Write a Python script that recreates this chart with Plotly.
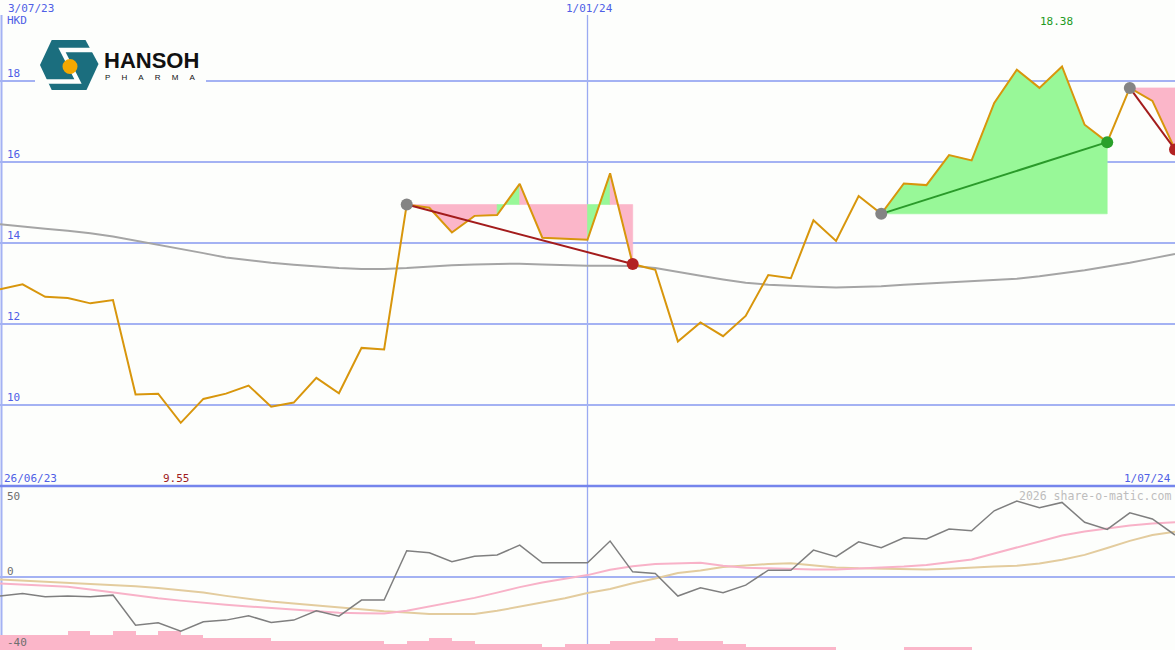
import plotly.graph_objects as go
import pandas as pd

W, H = 1175, 650

# ---------------- data ----------------
dates = pd.date_range("2023-07-03", periods=53, freq="7D")

price = [12.86, 12.98, 12.67, 12.64, 12.51, 12.59, 10.26, 10.28, 9.56, 10.15,
         10.28, 10.48, 9.96, 10.06, 10.67, 10.29, 11.41, 11.37, 14.95, 14.87,
         14.26, 14.67, 14.69, 15.46, 14.13, 14.11, 14.08, 15.72, 13.48, 13.34,
         11.57, 12.04, 11.70, 12.20, 13.21, 13.13, 14.56, 14.05, 15.16, 14.72,
         15.47, 15.43, 16.17, 16.04, 17.46, 18.28, 17.83, 18.36, 16.92, 16.49,
         17.83, 17.51, 16.31]

ma_long = [14.46, 14.40, 14.35, 14.30, 14.24, 14.16, 14.06, 13.95, 13.85, 13.75,
           13.64, 13.57, 13.51, 13.46, 13.42, 13.38, 13.36, 13.36, 13.38, 13.42,
           13.45, 13.47, 13.48, 13.49, 13.47, 13.45, 13.44, 13.44, 13.43, 13.38,
           13.28, 13.19, 13.10, 13.02, 12.97, 12.94, 12.92, 12.90, 12.91, 12.93,
           12.97, 13.00, 13.03, 13.06, 13.08, 13.12, 13.18, 13.25, 13.33, 13.42,
           13.51, 13.62, 13.73]

osc = [-10.3, -9.0, -10.8, -10.3, -10.8, -9.9, -26.4, -25.1, -29.7, -24.5,
       -23.6, -21.2, -24.9, -23.6, -18.5, -21.4, -12.6, -12.6, 14.5, 13.4,
       8.4, 11.5, 12.1, 17.6, 7.9, 7.9, 7.9, 19.8, 2.9, 2.0,
       -10.4, -5.9, -8.6, -4.4, 3.8, 3.8, 14.8, 11.2, 19.4, 16.1,
       21.6, 20.9, 26.4, 25.4, 36.4, 41.8, 38.1, 41.0, 30.1, 26.2,
       35.3, 31.9, 23.1]

osc_fast = [-3.5, -4.1, -4.7, -5.3, -6.8, -8.4, -10.2, -11.6, -12.9, -14.2,
            -15.2, -16.1, -17.0, -17.9, -18.8, -19.6, -19.9, -20.0, -18.4, -16.2,
            -13.9, -11.4, -8.5, -5.5, -3.0, -0.8, 1.1, 4.0, 6.0, 7.2,
            7.6, 7.9, 6.2, 5.1, 4.8, 4.4, 4.2, 4.2, 4.6, 5.1,
            5.8, 6.7, 8.0, 9.7, 13.0, 16.3, 19.6, 22.8, 25.0, 26.7,
            28.3, 29.4, 30.1]

osc_slow = [-1.3, -1.9, -2.5, -3.1, -3.7, -4.3, -5.0, -6.0, -7.2, -8.5,
            -10.3, -12.0, -13.4, -14.5, -15.6, -16.8, -18.0, -18.8, -19.4, -20.2,
            -20.3, -20.3, -18.5, -16.3, -14.0, -11.6, -8.7, -6.5, -3.4, -0.8,
            2.3, 3.6, 5.5, 6.5, 7.2, 7.6, 6.5, 5.3, 4.8, 4.5,
            4.3, 4.2, 4.6, 5.4, 5.8, 6.2, 7.5, 9.5, 12.2, 16.0,
            19.9, 23.1, 24.9]

volume = [8.2, 8.2, 8.2, 10.4, 8.2, 10.4, 8.2, 10.4, 8.2, 6.6,
          6.6, 6.6, 4.9, 4.9, 4.9, 4.9, 4.9, 3.3, 4.9, 6.6,
          4.9, 3.3, 3.3, 3.3, 1.6, 3.3, 3.3, 4.9, 4.9, 6.6,
          4.9, 4.9, 3.3, 1.6, 1.6, 1.6, 1.6, 0, 0, 0,
          1.6, 1.6, 1.6, 0, 0, 0, 0, 0, 0, 0,
          0, 0, 0]

trend_start = [18, 39, 50]
trend_end = [28, 49, 52]
trend_up = [False, True, False]

price_ticks = [10, 12, 14, 16, 18]
osc_ticks = [50, 0, -40]

# ---------------- style ----------------
BG = "#fdfefc"
GRID = "#a4b2f3"
BLUE_TXT = "#4f5fe6"
PINK = "#fbb6c9"
GREEN = "#98f898"
FONT = "DejaVu Sans Mono"


def px(x):
    return x / W


def py(y):
    return 1 - y / H


split = (H - 486) / H

fig = go.Figure()

# volume bars (bottom panel)
fig.add_trace(go.Bar(x=dates, y=volume, base=-40, width=7 * 86400000, offset=0,
                     marker=dict(color=PINK, line=dict(width=0)),
                     xaxis="x2", yaxis="y2", hoverinfo="skip"))

# trend fills: consecutive segments of the same colour merged into one polygon
for s, e in zip(trend_start, trend_end):
    ref = price[s]
    runs = []
    for i in range(s, e):
        col = GREEN if price[i + 1] > ref else PINK
        if runs and runs[-1][0] == col:
            runs[-1][2] = i + 1
        else:
            runs.append([col, i, i + 1])
    for col, a, b in runs:
        xs = [dates[a]] + list(dates[a:b + 1]) + [dates[b], dates[a]]
        ys = [ref] + price[a:b + 1] + [ref, ref]
        fig.add_trace(go.Scatter(x=xs, y=ys, mode="lines", fill="toself",
                                 fillcolor=col, line=dict(width=0.6, color=col),
                                 hoverinfo="skip"))

# long moving average
fig.add_trace(go.Scatter(x=dates, y=ma_long, mode="lines",
                         line=dict(color="#a5a5a5", width=2)))
# price
fig.add_trace(go.Scatter(x=dates, y=price, mode="lines",
                         line=dict(color="#d8960c", width=2)))

# trend lines and dots
for s, e, up in zip(trend_start, trend_end, trend_up):
    lc = "#2a9a2a" if up else "#a31c1c"
    fig.add_trace(go.Scatter(x=[dates[s], dates[e]], y=[price[s], price[e]],
                             mode="lines", line=dict(color=lc, width=2)))
    fig.add_trace(go.Scatter(x=[dates[s]], y=[price[s]], mode="markers",
                             marker=dict(color="#848484", size=12)))
    dc = "#2aa02a" if up else "#b22222"
    fig.add_trace(go.Scatter(x=[dates[e]], y=[price[e]], mode="markers",
                             marker=dict(color=dc, size=12)))

# bottom oscillators
fig.add_trace(go.Scatter(x=dates, y=osc_slow, mode="lines", xaxis="x2", yaxis="y2",
                         line=dict(color="#e3cc9e", width=2)))
fig.add_trace(go.Scatter(x=dates, y=osc_fast, mode="lines", xaxis="x2", yaxis="y2",
                         line=dict(color="#f8b2c8", width=2)))
fig.add_trace(go.Scatter(x=dates, y=osc, mode="lines", xaxis="x2", yaxis="y2",
                         line=dict(color="#7f7f7f", width=1.5)))

shapes = []
# separator line between panels
shapes.append(dict(type="line", xref="paper", yref="paper", x0=0, x1=1,
                   y0=split, y1=split, line=dict(color="#7585ec", width=2.5)))
# left border line
shapes.append(dict(type="line", xref="paper", yref="paper", x0=px(1.5), x1=px(1.5),
                   y0=0, y1=py(15), line=dict(color=GRID, width=2), layer="below"))
# 1/01/24 vertical line
shapes.append(dict(type="line", xref="x", yref="paper", x0="2024-01-01", x1="2024-01-01",
                   y0=0, y1=py(15), line=dict(color="#9aaaf2", width=1.3), layer="below"))

# logo background
shapes.append(dict(type="rect", xref="paper", yref="paper", x0=px(35), x1=px(206),
                   y0=py(96), y1=py(36), fillcolor=BG, line=dict(width=0)))
# logo hexagon
hexpts = [(40, 65), (51.7, 40), (85.5, 40), (98.5, 64), (86.5, 90), (51.7, 90)]
path = "M " + " L ".join(f"{px(a):.5f},{py(b):.5f}" for a, b in hexpts) + " Z"
shapes.append(dict(type="path", xref="paper", yref="paper", path=path,
                   fillcolor="#1b6e7e", line=dict(width=0)))
spts = [(93, 50), (62, 50), (78, 81.5), (46, 81.5)]
spath = "M " + " L ".join(f"{px(a):.5f},{py(b):.5f}" for a, b in spts)
shapes.append(dict(type="path", xref="paper", yref="paper", path=spath,
                   line=dict(color=BG, width=4.5)))
shapes.append(dict(type="circle", xref="paper", yref="paper",
                   x0=px(62.5), x1=px(77.5), y0=py(74), y1=py(59),
                   fillcolor="#f5a800", line=dict(width=0)))

ann = []


def txt(x, y, t, color=BLUE_TXT, size=11, xanchor="left", xref="paper", **kw):
    ann.append(dict(x=x, y=y, xref=xref, yref="paper", text=t, showarrow=False,
                    xanchor=xanchor, yanchor="middle",
                    font=dict(family=FONT, size=size, color=color), **kw))


txt(px(6), py(8.5), "3/07/23")
txt(px(5), py(21), "HKD")
txt(px(589), py(8.5), "1/01/24", xanchor="center")
txt(dates[47], py(21.5), f"{max(price) + 0.02:.2f}", color="#239a23", xanchor="center",
    xref="x", xshift=-6)
txt(px(2), py(478.5), "26/06/23")
txt(dates[8], py(478.5), f"{min(price) - 0.01:.2f}", color="#a01c1c", xanchor="center",
    xref="x", xshift=-4)
txt(px(1173), py(478.5), "1/07/24", xanchor="right")
txt(px(1173), py(496), "2026 share-o-matic.com", color="#bdbdbd", size=11.5,
    xanchor="right")

for v in price_ticks:
    ann.append(dict(x=px(5), y=v, xref="paper", yref="y", text=str(v), showarrow=False,
                    xanchor="left", yanchor="bottom", yshift=-1,
                    font=dict(family=FONT, size=11, color=BLUE_TXT)))
osc_label_y = {50: 496, 0: 571, -40: 642.5}
for v in osc_ticks:
    txt(px(5), py(osc_label_y[v]), str(v), color="#6e6e6e")

# logo text
ann.append(dict(x=px(151), y=py(61), xref="paper", yref="paper", text="<b>HANSOH</b>",
                showarrow=False, xanchor="center", yanchor="middle",
                font=dict(family="Liberation Sans", size=22, color="#111111")))
ann.append(dict(x=px(150), y=py(77.5), xref="paper", yref="paper",
                text="\u00a0\u00a0\u00a0\u00a0\u00a0".join("PHARMA"),
                showarrow=False, xanchor="center", yanchor="middle",
                font=dict(family="Liberation Sans", size=8, color="#111111")))

fig.update_layout(
    width=W, height=H, margin=dict(l=0, r=0, t=0, b=0),
    paper_bgcolor=BG, plot_bgcolor=BG, showlegend=False,
    shapes=shapes, annotations=ann,
    xaxis=dict(domain=[0, 1], range=[dates[0], dates[-1]], visible=False, anchor="y"),
    xaxis2=dict(domain=[0, 1], range=[dates[0], dates[-1]], visible=False, anchor="y2",
                matches="x"),
    yaxis=dict(domain=[split, 1], range=[8, 20], tickvals=price_ticks,
               showticklabels=False, showgrid=True, gridcolor=GRID, gridwidth=2,
               zeroline=False, ticks=""),
    yaxis2=dict(domain=[0, split], range=[-40, 50], tickvals=[0],
                showticklabels=False, showgrid=True, gridcolor=GRID, gridwidth=2,
                zeroline=False, ticks=""),
    bargap=0,
)

fig.write_html("out.html", config={"displayModeBar": False, "staticPlot": True},
               post_script="document.body.style.margin='0';document.body.style.overflow='hidden';")
